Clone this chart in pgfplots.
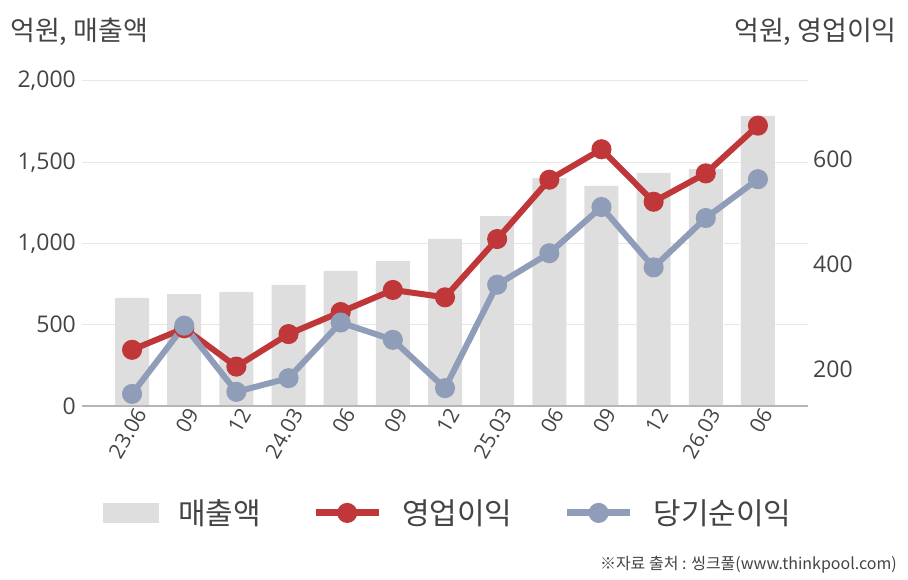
\documentclass[border=0pt]{standalone}
\usepackage{pgfplots}
\usepackage{pgfplotstable}
\pgfplotsset{compat=1.18}
\usepackage{fontspec}
\setmainfont{Open Sans}
\newfontfamily\kr{Noto Sans CJK KR}
\definecolor{barc}{HTML}{DEDEDE}
\definecolor{redc}{HTML}{C0373A}
\definecolor{bluec}{HTML}{8F9DB9}
\definecolor{txt}{HTML}{444444}
\definecolor{gridc}{HTML}{E8E8E8}
\definecolor{axc}{HTML}{B5B5B5}
\pgfplotstableread{
x sales op net
0 665 237 153
1 689 278 283
2 702 205 157
3 745 267 183
4 831 309 289
5 892 351 256
6 1028 337 164
7 1169 448 361
8 1403 561 421
9 1354 619 509
10 1434 519 394
11 1458 573 488
12 1785 664 562
}\data
\begin{document}
\begin{tikzpicture}[x=1pt,y=1pt]
\path[use as bounding box] (0,0) rectangle (908,580);
\begin{axis}[
  at={(82pt,174pt)}, anchor=south west, scale only axis,
  width=726pt, height=325pt,
  xmin=-0.96, xmax=12.96, ymin=0, ymax=2000,
  axis x line*=bottom, axis y line*=left,
  axis line style={draw=none},
  major tick length=0pt,
  xtick={0,...,12},
  xticklabels={23.06,09,12,24.03,06,09,12,25.03,06,09,12,26.03,06},
  xticklabel style={xshift=10pt, yshift=-2pt, rotate=60, anchor=east, inner sep=2pt, font=\fontsize{21}{21}\selectfont, text=txt},
  ytick={0,500,1000,1500,2000},
  ymajorgrids, grid style={gridc, line width=1pt},
  yticklabel style={inner sep=6pt, font=\fontsize{23}{23}\selectfont, text=txt, /pgf/number format/1000 sep={,}},
  /pgf/number format/assume math mode=true,
]
\addplot[ybar, bar width=34pt, fill=barc, draw=none] table[x=x,y=sales]{\data};
\end{axis}
\begin{axis}[
  at={(82pt,174pt)}, anchor=south west, scale only axis,
  width=726pt, height=325pt,
  xmin=-0.96, xmax=12.96, ymin=130, ymax=749,
  axis x line*=bottom, axis y line*=right,
  x axis line style={-, axc, line width=1.2pt},
  y axis line style={draw=none},
  major tick length=0pt,
  xtick=\empty,
  ytick={200,400,600},
  yticklabel style={inner sep=5pt, font=\fontsize{23}{23}\selectfont, text=txt},
  /pgf/number format/assume math mode=true,
  legend style={at={(0.0245,-0.329)}, anchor=west, draw=none, fill=none,
    legend columns=3, font=\kr\fontsize{30}{30}\selectfont, text=txt,
    /tikz/every odd column/.append style={column sep=20pt},
    /tikz/every even column/.append style={column sep=51pt},
    nodes={inner sep=0pt}},
  legend cell align=left,
]
\addlegendimage{legend image code/.code={\fill[barc] (0pt,-9.5pt) rectangle (55pt,9.5pt);}}
\addlegendentry{매출액}
\addplot[redc, line width=6pt, mark=*, mark size=7pt, mark options={draw=none, fill=redc},
  legend image code/.code={\draw[redc,line width=7pt] (0pt,0pt)--(63pt,0pt); \fill[redc] (31.5pt,0pt) circle (7pt);}]
  table[x=x,y=op]{\data};
\addlegendentry{영업이익}
\addplot[bluec, line width=6pt, mark=*, mark size=7pt, mark options={draw=none, fill=bluec},
  legend image code/.code={\draw[bluec,line width=7pt] (0pt,0pt)--(63pt,0pt); \fill[bluec] (31.5pt,0pt) circle (7pt);}]
  table[x=x,y=net]{\data};
\addlegendentry{당기순이익}
\end{axis}
\node[anchor=west, inner sep=0pt, text=txt, font=\kr\fontsize{27}{27}\selectfont] at (10,548) {억원, 매출액};
\node[anchor=east, inner sep=0pt, text=txt, font=\kr\fontsize{27}{27}\selectfont] at (897,548) {억원, 영업이익};
\node[anchor=east, inner sep=0pt, text=txt, font=\kr\fontsize{16}{16}\selectfont] at (897,15) {※자료 출처 : 씽크풀(www.thinkpool.com)};
\end{tikzpicture}
\end{document}
